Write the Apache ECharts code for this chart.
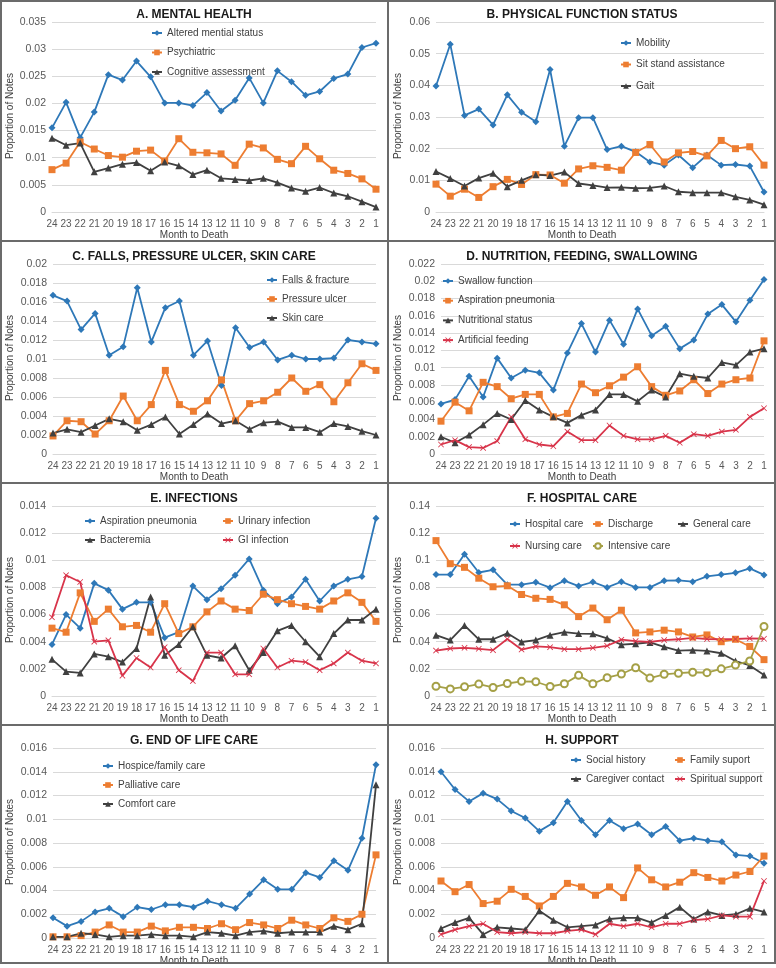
<!DOCTYPE html>
<html>
<head>
<meta charset="utf-8">
<script src="https://cdn.jsdelivr.net/npm/echarts@6/dist/echarts.min.js"></script>
<style>
  body { margin: 0; background: #fff; }
  #wrap { position: relative; width: 776px; height: 968px; }
  .panel { position: absolute; width: 388px; height: 242px; }
  .rule { position: absolute; background: #6b6b6b; z-index: 5; }
</style>
</head>
<body>
<div id="wrap"></div>
<script>
// months before death, left to right
const months = ['24', '23', '22', '21', '20', '19', '18', '17', '16', '15', '14', '13',
  '12', '11', '10', '9', '8', '7', '6', '5', '4', '3', '2', '1']

// A. mental health
const alteredMental = [0.0155, 0.0202, 0.0137, 0.0184, 0.0253, 0.0243, 0.0278, 0.0249, 0.0201, 0.0201, 0.0196, 0.0220,
  0.0186, 0.0206, 0.0247, 0.0201, 0.0260, 0.0240, 0.0215, 0.0222, 0.0246, 0.0254, 0.0303, 0.0311]
const psychiatric = [0.0078, 0.0090, 0.0129, 0.0116, 0.0104, 0.0101, 0.0112, 0.0114, 0.0094, 0.0135, 0.0110, 0.0109,
  0.0107, 0.0086, 0.0125, 0.0118, 0.0097, 0.0089, 0.0121, 0.0098, 0.0077, 0.0071, 0.0061, 0.0042]
const cognitive = [0.0136, 0.0123, 0.0127, 0.0074, 0.0081, 0.0088, 0.0091, 0.0076, 0.0092, 0.0085, 0.0069, 0.0077,
  0.0062, 0.0060, 0.0058, 0.0062, 0.0054, 0.0044, 0.0038, 0.0045, 0.0035, 0.0029, 0.0019, 0.0009]

// B. physical function
const mobility = [0.0398, 0.0530, 0.0305, 0.0325, 0.0275, 0.0370, 0.0315, 0.0285, 0.0450, 0.0208, 0.0298, 0.0298,
  0.0197, 0.0208, 0.0190, 0.0158, 0.0148, 0.0180, 0.0140, 0.0180, 0.0148, 0.0150, 0.0145, 0.0063]
const sitStand = [0.0088, 0.0050, 0.0072, 0.0046, 0.0080, 0.0103, 0.0087, 0.0118, 0.0117, 0.0091, 0.0136, 0.0146,
  0.0141, 0.0132, 0.0188, 0.0213, 0.0158, 0.0187, 0.0191, 0.0177, 0.0226, 0.0200, 0.0206, 0.0148]
const gait = [0.0128, 0.0106, 0.0082, 0.0107, 0.0122, 0.0080, 0.0100, 0.0118, 0.0115, 0.0126, 0.0090, 0.0084,
  0.0077, 0.0078, 0.0075, 0.0076, 0.0082, 0.0064, 0.0061, 0.0061, 0.0061, 0.0048, 0.0038, 0.0023]

// C. falls, pressure ulcer, skin care
const falls = [0.0167, 0.0161, 0.0131, 0.0148, 0.0104, 0.0113, 0.0175, 0.0118, 0.0154, 0.0161, 0.0104, 0.0119,
  0.0072, 0.0133, 0.0112, 0.0118, 0.0099, 0.0104, 0.0100, 0.0100, 0.0101, 0.0120, 0.0118, 0.0116]
const pressureUlcer = [0.0019, 0.0035, 0.0034, 0.0021, 0.0035, 0.0061, 0.0035, 0.0052, 0.0088, 0.0052, 0.0045, 0.0056,
  0.0078, 0.0035, 0.0053, 0.0056, 0.0065, 0.0080, 0.0066, 0.0073, 0.0055, 0.0075, 0.0095, 0.0088]
const skinCare = [0.0022, 0.0026, 0.0023, 0.0030, 0.0037, 0.0034, 0.0025, 0.0031, 0.0039, 0.0021, 0.0031, 0.0042,
  0.0032, 0.0035, 0.0026, 0.0033, 0.0034, 0.0028, 0.0028, 0.0023, 0.0032, 0.0029, 0.0024, 0.0020]

// D. nutrition, feeding, swallowing
const swallow = [0.0058, 0.0063, 0.0090, 0.0066, 0.0111, 0.0088, 0.0097, 0.0094, 0.0074, 0.0117, 0.0151, 0.0118,
  0.0155, 0.0127, 0.0168, 0.0137, 0.0148, 0.0122, 0.0132, 0.0162, 0.0173, 0.0153, 0.0178, 0.0202]
const aspirationPneumonia = [0.0038, 0.0060, 0.0050, 0.0083, 0.0078, 0.0064, 0.0069, 0.0069, 0.0043, 0.0047, 0.0081, 0.0071,
  0.0079, 0.0089, 0.0101, 0.0078, 0.0068, 0.0073, 0.0086, 0.0070, 0.0081, 0.0086, 0.0088, 0.0131]
const nutritional = [0.0020, 0.0013, 0.0022, 0.0034, 0.0047, 0.0040, 0.0062, 0.0051, 0.0043, 0.0036, 0.0045, 0.0051,
  0.0069, 0.0069, 0.0061, 0.0074, 0.0066, 0.0093, 0.0090, 0.0088, 0.0106, 0.0103, 0.0118, 0.0122]
const artificialFeeding = [0.0011, 0.0016, 0.0008, 0.0007, 0.0015, 0.0043, 0.0017, 0.0011, 0.0009, 0.0026, 0.0016, 0.0016,
  0.0033, 0.0021, 0.0017, 0.0017, 0.0021, 0.0013, 0.0023, 0.0021, 0.0026, 0.0028, 0.0043, 0.0053]

// E. infections
const urinary = [0.0050, 0.0047, 0.0076, 0.0055, 0.0064, 0.0051, 0.0052, 0.0047, 0.0068, 0.0046, 0.0051, 0.0062,
  0.0070, 0.0064, 0.0063, 0.0075, 0.0071, 0.0068, 0.0066, 0.0064, 0.0070, 0.0076, 0.0069, 0.0055]
const bacteremia = [0.0027, 0.0018, 0.0017, 0.0031, 0.0029, 0.0025, 0.0035, 0.0073, 0.0030, 0.0038, 0.0051, 0.0030,
  0.0028, 0.0037, 0.0019, 0.0032, 0.0048, 0.0052, 0.0040, 0.0029, 0.0046, 0.0056, 0.0056, 0.0064]
const giInfection = [0.0058, 0.0089, 0.0084, 0.0040, 0.0041, 0.0015, 0.0028, 0.0021, 0.0036, 0.0019, 0.0011, 0.0032,
  0.0032, 0.0016, 0.0016, 0.0035, 0.0021, 0.0026, 0.0025, 0.0019, 0.0024, 0.0032, 0.0026, 0.0024]

// F. hospital care
const hospitalCare = [0.0895, 0.0895, 0.1045, 0.0910, 0.0930, 0.0820, 0.0820, 0.0838, 0.0798, 0.0850, 0.0810, 0.0840,
  0.0800, 0.0842, 0.0800, 0.0800, 0.0850, 0.0852, 0.0842, 0.0882, 0.0895, 0.0908, 0.0940, 0.0892]
const discharge = [0.1145, 0.0975, 0.0948, 0.0868, 0.0805, 0.0812, 0.0748, 0.0720, 0.0712, 0.0672, 0.0585, 0.0648,
  0.0562, 0.0632, 0.0465, 0.0472, 0.0485, 0.0472, 0.0435, 0.0450, 0.0400, 0.0418, 0.0365, 0.0268]
const generalCare = [0.0448, 0.0412, 0.0520, 0.0418, 0.0418, 0.0462, 0.0398, 0.0412, 0.0448, 0.0470, 0.0460, 0.0458,
  0.0425, 0.0378, 0.0385, 0.0395, 0.0362, 0.0335, 0.0338, 0.0332, 0.0315, 0.0258, 0.0225, 0.0155]
const nursingCare = [0.0335, 0.0350, 0.0355, 0.0348, 0.0338, 0.0420, 0.0342, 0.0365, 0.0360, 0.0345, 0.0345, 0.0355,
  0.0370, 0.0415, 0.0405, 0.0398, 0.0412, 0.0418, 0.0428, 0.0420, 0.0418, 0.0420, 0.0425, 0.0422]
const intensiveCare = [0.0072, 0.0052, 0.0068, 0.0088, 0.0063, 0.0092, 0.0108, 0.0105, 0.0070, 0.0090, 0.0152, 0.0090,
  0.0135, 0.0162, 0.0208, 0.0132, 0.0160, 0.0168, 0.0175, 0.0172, 0.0200, 0.0228, 0.0258, 0.0512]

// G. end of life care
const hospice = [0.0017, 0.0010, 0.0014, 0.0022, 0.0025, 0.0018, 0.0026, 0.0024, 0.0028, 0.0028, 0.0026, 0.0031,
  0.0028, 0.0025, 0.0037, 0.0049, 0.0041, 0.0041, 0.0055, 0.0051, 0.0065, 0.0057, 0.0084, 0.0146]
const palliative = [0.0001, 0.0001, 0.0002, 0.0005, 0.0011, 0.0005, 0.0005, 0.0010, 0.0006, 0.0009, 0.0009, 0.0008,
  0.0012, 0.0007, 0.0013, 0.0011, 0.0008, 0.0015, 0.0011, 0.0008, 0.0017, 0.0014, 0.0020, 0.0070]
const comfort = [0.0001, 0.0001, 0.0004, 0.0003, 0.0001, 0.0002, 0.0002, 0.0003, 0.0002, 0.0002, 0.0001, 0.0005,
  0.0004, 0.0002, 0.0005, 0.0006, 0.0004, 0.0005, 0.0005, 0.0005, 0.0010, 0.0007, 0.0012, 0.0129]

// H. support
const socialHistory = [0.0140, 0.0125, 0.0115, 0.0122, 0.0117, 0.0107, 0.0101, 0.0090, 0.0097, 0.0115, 0.0099, 0.0087,
  0.0099, 0.0092, 0.0096, 0.0087, 0.0094, 0.0082, 0.0084, 0.0082, 0.0081, 0.0070, 0.0069, 0.0063]
const familySupport = [0.0048, 0.0039, 0.0045, 0.0029, 0.0031, 0.0041, 0.0035, 0.0027, 0.0035, 0.0046, 0.0043, 0.0036,
  0.0043, 0.0034, 0.0059, 0.0049, 0.0043, 0.0047, 0.0055, 0.0051, 0.0048, 0.0053, 0.0056, 0.0069]
const caregiver = [0.0008, 0.0013, 0.0017, 0.0003, 0.0009, 0.0008, 0.0007, 0.0023, 0.0015, 0.0009, 0.0010, 0.0011,
  0.0016, 0.0017, 0.0017, 0.0013, 0.0019, 0.0026, 0.0016, 0.0022, 0.0019, 0.0020, 0.0025, 0.0022]
const spiritual = [0.0003, 0.0007, 0.0010, 0.0012, 0.0005, 0.0004, 0.0005, 0.0004, 0.0004, 0.0006, 0.0007, 0.0003,
  0.0012, 0.0010, 0.0012, 0.0009, 0.0012, 0.0012, 0.0015, 0.0016, 0.0019, 0.0018, 0.0018, 0.0048]

const font = "'Liberation Sans', Arial, sans-serif"
const crossPath = 'path://M1,0 L5,4 L9,0 L10,1 L6,5 L10,9 L9,10 L5,6 L1,10 L0,9 L4,5 L0,1 Z'

const kinds = {
  blue: { color: '#2E78B8', symbol: 'diamond', size: 7 },
  orange: { color: '#ED7D31', symbol: 'rect', size: 7 },
  gray: { color: '#404040', symbol: 'triangle', size: 7 },
  red: { color: '#D8344A', symbol: crossPath, size: 6 },
  olive: { color: '#A5A046', symbol: 'emptyCircle', size: 7 }
}

const panels = [
  {
    title: 'A. MENTAL HEALTH', max: 0.035, interval: 0.005, left: 52,
    series: [['Altered mential status', alteredMental, 'blue'], ['Psychiatric', psychiatric, 'orange'],
      ['Cognitive assessment', cognitive, 'gray']],
    legends: [{ x: 152, y: 33, gap: 19.5, names: ['Altered mential status', 'Psychiatric', 'Cognitive assessment'] }]
  },
  {
    title: 'B. PHYSICAL FUNCTION STATUS', max: 0.06, interval: 0.01, left: 48,
    series: [['Mobility', mobility, 'blue'], ['Sit stand assistance', sitStand, 'orange'], ['Gait', gait, 'gray']],
    legends: [{ x: 233, y: 43, gap: 21.5, names: ['Mobility', 'Sit stand assistance', 'Gait'] }]
  },
  {
    title: 'C. FALLS, PRESSURE ULCER, SKIN CARE', max: 0.02, interval: 0.002, left: 53,
    series: [['Falls & fracture', falls, 'blue'], ['Pressure ulcer', pressureUlcer, 'orange'], ['Skin care', skinCare, 'gray']],
    legends: [{ x: 267, y: 38, gap: 19, names: ['Falls & fracture', 'Pressure ulcer', 'Skin care'] }]
  },
  {
    title: 'D. NUTRITION, FEEDING, SWALLOWING', max: 0.022, interval: 0.002, left: 53,
    series: [['Swallow function', swallow, 'blue'], ['Aspiration pneumonia', aspirationPneumonia, 'orange'],
      ['Nutritional status', nutritional, 'gray'], ['Artificial feeding', artificialFeeding, 'red']],
    legends: [{ x: 55, y: 39, gap: 19.7,
      names: ['Swallow function', 'Aspiration pneumonia', 'Nutritional status', 'Artificial feeding'] }]
  },
  {
    title: 'E. INFECTIONS', max: 0.014, interval: 0.002, left: 52,
    series: [['Aspiration pneumonia', aspirationPneumonia, 'blue'], ['Urinary infection', urinary, 'orange'],
      ['Bacteremia', bacteremia, 'gray'], ['GI infection', giInfection, 'red']],
    legends: [
      { x: 85, y: 37, gap: 19, names: ['Aspiration pneumonia', 'Bacteremia'] },
      { x: 223, y: 37, gap: 19, names: ['Urinary infection', 'GI infection'] }
    ]
  },
  {
    title: 'F. HOSPITAL CARE', max: 0.14, interval: 0.02, left: 48,
    series: [['Hospital care', hospitalCare, 'blue'], ['Discharge', discharge, 'orange'], ['General care', generalCare, 'gray'],
      ['Nursing care', nursingCare, 'red'], ['Intensive care', intensiveCare, 'olive']],
    legends: [
      { x: 122, y: 40, gap: 22, names: ['Hospital care', 'Nursing care'] },
      { x: 205, y: 40, gap: 22, names: ['Discharge', 'Intensive care'] },
      { x: 290, y: 40, gap: 22, names: ['General care'] }
    ]
  },
  {
    title: 'G. END OF LIFE CARE', max: 0.016, interval: 0.002, left: 53,
    series: [['Hospice/family care', hospice, 'blue'], ['Palliative care', palliative, 'orange'], ['Comfort care', comfort, 'gray']],
    legends: [{ x: 103, y: 40, gap: 19, names: ['Hospice/family care', 'Palliative care', 'Comfort care'] }]
  },
  {
    title: 'H. SUPPORT', max: 0.016, interval: 0.002, left: 53,
    series: [['Social history', socialHistory, 'blue'], ['Family suport', familySupport, 'orange'],
      ['Caregiver contact', caregiver, 'gray'], ['Spiritual support', spiritual, 'red']],
    legends: [
      { x: 183, y: 34, gap: 19, names: ['Social history', 'Caregiver contact'] },
      { x: 287, y: 34, gap: 19, names: ['Family suport', 'Spiritual support'] }
    ]
  }
]

function makeSeries(item) {
  const k = kinds[item[2]]
  return {
    name: item[0],
    type: 'line',
    data: item[1],
    symbol: k.symbol,
    symbolSize: k.size,
    showAllSymbol: true,
    itemStyle: { color: k.color, borderWidth: item[2] === 'olive' ? 1.2 : 0 },
    lineStyle: { color: k.color, width: 1.8 },
    emphasis: { disabled: true }
  }
}

function makeOption(p) {
  return {
    animation: false,
    textStyle: { fontFamily: font },
    title: [
      { text: p.title, left: 'center', top: 9, padding: 0,
        textStyle: { fontSize: 12, fontWeight: 'bold', color: '#1a1a1a', fontFamily: font } },
      { text: 'Month to Death', left: 'center', top: 230, padding: 0,
        textStyle: { fontSize: 10, fontWeight: 'normal', color: '#404040', fontFamily: font } }
    ],
    graphic: [{
      type: 'text', x: 10, y: 116, rotation: Math.PI / 2,
      style: { text: 'Proportion of Notes', fill: '#404040', font: '10px ' + font,
        textAlign: 'center', textVerticalAlign: 'middle' }
    }],
    legend: p.legends.map(l => ({
      orient: 'vertical',
      left: l.x - 1,
      top: l.y - 6,
      padding: 0,
      itemGap: l.gap - 12,
      itemWidth: 10,
      itemHeight: 7,
      selectedMode: false,
      data: l.names,
      textStyle: { fontSize: 10, color: '#404040', lineHeight: 12, fontFamily: font }
    })),
    grid: { left: p.left, right: 12, top: 22, height: 190 },
    xAxis: {
      type: 'category',
      data: months,
      boundaryGap: false,
      axisTick: { show: false },
      axisLine: { lineStyle: { color: '#d9d9d9' } },
      axisLabel: { fontSize: 10, color: '#595959', margin: 7, interval: 0 }
    },
    yAxis: {
      type: 'value',
      min: 0,
      max: p.max,
      interval: p.interval,
      axisLine: { show: false },
      axisTick: { show: false },
      splitLine: { lineStyle: { color: '#d9d9d9' } },
      axisLabel: { fontSize: 10.5, color: '#595959', margin: 6 }
    },
    series: p.series.map(makeSeries)
  }
}

const wrap = document.getElementById('wrap')
panels.forEach((p, i) => {
  const div = document.createElement('div')
  div.className = 'panel'
  div.style.left = (i % 2) * 388 + 'px'
  div.style.top = Math.floor(i / 2) * 242 + 'px'
  wrap.appendChild(div)
  const chart = echarts.init(div)
  chart.setOption(makeOption(p))
})

// panel frame
const rules = [
  [0, 0, 776, 2], [0, 962, 776, 2], [0, 0, 2, 964], [774, 0, 2, 964],
  [387, 0, 2, 964], [0, 240, 776, 2], [0, 482, 776, 2], [0, 724, 776, 2]
]
rules.forEach(r => {
  const d = document.createElement('div')
  d.className = 'rule'
  d.style.left = r[0] + 'px'
  d.style.top = r[1] + 'px'
  d.style.width = r[2] + 'px'
  d.style.height = r[3] + 'px'
  wrap.appendChild(d)
})
</script>
</body>
</html>
